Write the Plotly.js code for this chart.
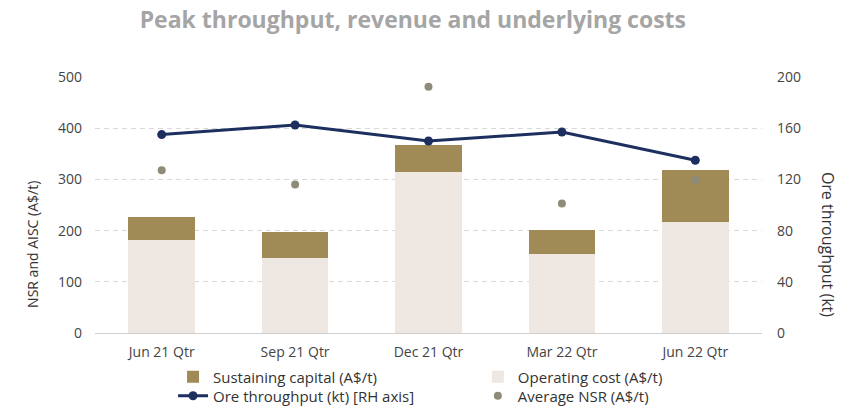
<!DOCTYPE html>
<html>
<head>
<meta charset="utf-8">
<script src="https://cdn.plot.ly/plotly-3.0.1.min.js"></script>
<style>html,body{margin:0;padding:0;background:#fff;}#chart{width:846px;height:406px;}</style>
</head>
<body>
<div id="chart"></div>
<script>
const quarters = ["Jun 21 Qtr", "Sep 21 Qtr", "Dec 21 Qtr", "Mar 22 Qtr", "Jun 22 Qtr"];
const operatingCost = [182, 146, 315, 154, 217];
const sustainingCapital = [45, 52, 52, 47, 101];
const oreThroughput = [155, 162.5, 150, 157, 135];
const averageNSR = [318, 290, 481, 253, 299];

const font = "'Open Sans', Roboto, sans-serif";
const traces = [
  {type: "bar", x: quarters, y: operatingCost, name: "Operating cost (A$/t)",
   marker: {color: "#efe8e2"}, width: 0.5, legend: "legend2"},
  {type: "bar", x: quarters, y: sustainingCapital, name: "Sustaining capital (A$/t)",
   marker: {color: "#a08a55"}, width: 0.5, legend: "legend"},
  {type: "scatter", mode: "lines+markers", x: quarters, y: oreThroughput, yaxis: "y2",
   name: "Ore throughput (kt) [RH axis]", line: {color: "#1c2f5e", width: 3},
   marker: {color: "#1c2f5e", size: 9}, legend: "legend3"},
  {type: "scatter", mode: "markers", x: quarters, y: averageNSR,
   name: "Average NSR (A$/t)", marker: {color: "#8e8c78", size: 8}, legend: "legend4"}
];

function leg(x, y) {
  return {x: x, xref: "paper", xanchor: "left", y: y, yref: "paper", yanchor: "middle",
          orientation: "v", font: {size: 15, color: "#333"}, itemwidth: 30,
          bgcolor: "rgba(0,0,0,0)", borderwidth: 0};
}

const layout = {
  width: 846, height: 406,
  margin: {l: 95, r: 84, t: 77, b: 73, autoexpand: false},
  paper_bgcolor: "#fff", plot_bgcolor: "#fff",
  barmode: "stack",
  font: {family: font, size: 14, color: "#444"},
  title: {text: "<b>Peak throughput, revenue and underlying costs</b>",
          font: {family: font, size: 23, color: "#a5a5a5"}, x: 0.488, xanchor: "center",
          y: 0.952, yanchor: "middle"},
  xaxis: {showgrid: false, showline: true, linecolor: "#cfcfcf", linewidth: 1, ticks: "",
          ticklabelstandoff: 6, tickfont: {size: 14, color: "#444"}},
  yaxis: {range: [0, 500], dtick: 100, showgrid: true, gridcolor: "#d9d9d9", griddash: "5px,4px",
          zeroline: false, ticks: "", ticklabelstandoff: 12, tickfont: {size: 14, color: "#444"}},
  yaxis2: {range: [0, 200], dtick: 40, overlaying: "y", side: "right", showgrid: false,
           zeroline: false, ticks: "", ticklabelstandoff: 14, tickfont: {size: 14, color: "#444"}},
  showlegend: true,
  legend: leg(0.117, -0.172),
  legend2: leg(0.574, -0.172),
  legend3: leg(0.117, -0.246),
  legend4: leg(0.574, -0.246),
  annotations: [
    {text: "NSR and AISC (A$/t)", textangle: -90, xref: "paper", yref: "paper",
     x: -0.093, y: 0.348, xanchor: "center", yanchor: "middle", showarrow: false,
     font: {size: 14, color: "#333"}},
    {text: "Ore throughput (kt)", textangle: 90, xref: "paper", yref: "paper",
     x: 1.099, y: 0.348, xanchor: "center", yanchor: "middle", showarrow: false,
     font: {size: 16, color: "#333"}}
  ]
};

Plotly.newPlot("chart", traces, layout, {displayModeBar: false, staticPlot: true});
</script>
</body>
</html>
